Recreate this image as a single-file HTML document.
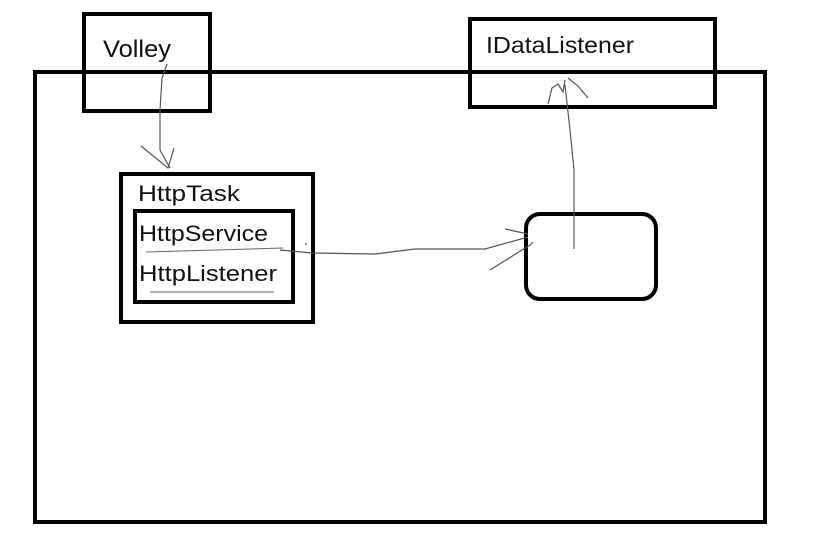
<!DOCTYPE html>
<html><head><meta charset="utf-8"><style>
html,body{margin:0;padding:0;background:#fff;}
svg{display:block;}
text{font-family:"Liberation Sans",sans-serif;fill:#111;}
</style></head><body>
<svg width="823" height="554" viewBox="0 0 823 554" xmlns="http://www.w3.org/2000/svg">
<rect width="823" height="554" fill="#fff"/>
<!-- big box -->
<rect x="35" y="72" width="730" height="450" fill="none" stroke="#000" stroke-width="4"/>
<!-- Volley -->
<rect x="84" y="14" width="126" height="97" fill="none" stroke="#000" stroke-width="4"/>
<text x="103" y="57" font-size="24" textLength="68" lengthAdjust="spacingAndGlyphs">Volley</text>
<!-- IDataListener -->
<rect x="470" y="19" width="245" height="88" fill="none" stroke="#000" stroke-width="4"/>
<text x="486" y="53" font-size="23" textLength="148" lengthAdjust="spacingAndGlyphs">IDataListener</text>
<!-- HttpTask -->
<rect x="121" y="174" width="192" height="148" fill="none" stroke="#000" stroke-width="4"/>
<text x="138" y="201" font-size="22" textLength="102" lengthAdjust="spacingAndGlyphs">HttpTask</text>
<rect x="135" y="211" width="158" height="91" fill="none" stroke="#000" stroke-width="4"/>
<text x="139" y="241" font-size="22" textLength="129" lengthAdjust="spacingAndGlyphs">HttpService</text>
<text x="139" y="281" font-size="22" textLength="138" lengthAdjust="spacingAndGlyphs">HttpListener</text>
<line x1="146" y1="252" x2="283" y2="248" stroke="#666" stroke-width="1"/>
<line x1="150" y1="292" x2="274" y2="292" stroke="#666" stroke-width="1"/>
<!-- rounded box -->
<rect x="526" y="214" width="130" height="85" rx="14" fill="none" stroke="#000" stroke-width="4"/>
<!-- connectors -->
<g fill="none" stroke="#555" stroke-width="1.2">
<path d="M167 64 L162 78 L160 110 L160 150 L170 168"/>
<path d="M141 146 L168 168 L174 148"/>
<path d="M280 250 L312 253 L375 254 L415 249 L485 249 L528 237"/>
<path d="M306 245 L306 243"/>
<path d="M505 229 L528 234"/>
<path d="M490 270 L530 245 L533 242"/>
<path d="M574 249 L574 170 L570 130 L565 85"/>
<path d="M548 104 L552 88 L558 84 L563 92 L565 80"/>
<path d="M568 78 L578 86 L588 98"/>
</g>
</svg>
</body></html>
